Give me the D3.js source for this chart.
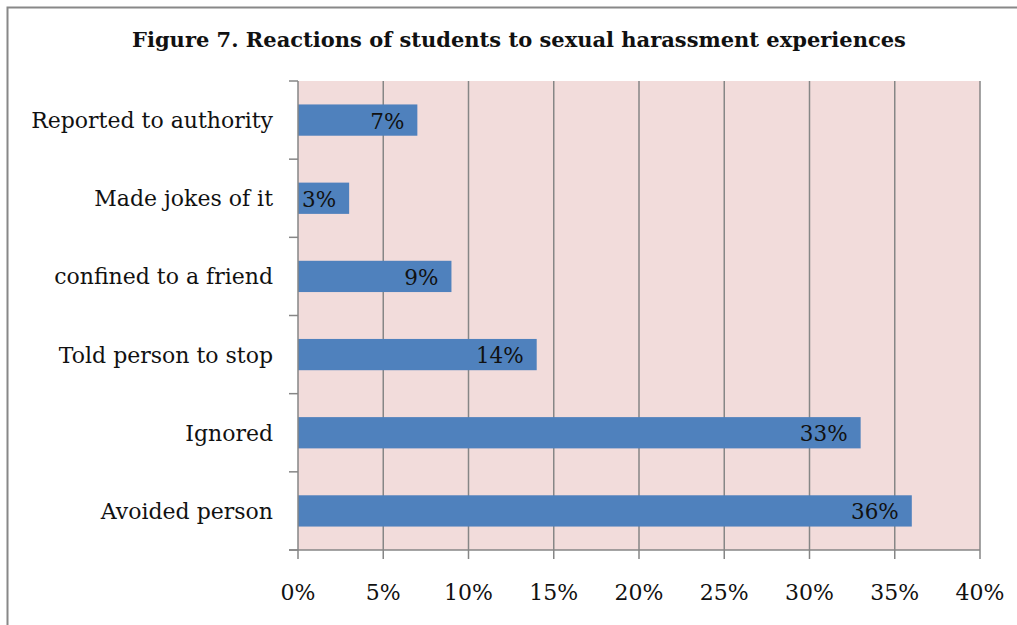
<!DOCTYPE html>
<html><head><meta charset="utf-8">
<script src="https://cdn.jsdelivr.net/npm/d3@7"></script>
<style>body{margin:0;background:#fff}svg{display:block}</style>
</head><body>
<script>
const categories = ["Reported to authority","Made jokes of it","confined to a friend","Told person to stop","Ignored","Avoided person"];
const values = [7,3,9,14,33,36];
const tickValues = [0,5,10,15,20,25,30,35,40];
const title = "Figure 7. Reactions of students to sexual harassment experiences";

const W=1017,H=625;
const svg=d3.select("body").append("svg").attr("width",W).attr("height",H);
const font="'DejaVu Serif', serif";
// outer border
svg.append("rect").attr("x",7.5).attr("y",7.5).attr("width",W+10).attr("height",H+10)
  .attr("fill","#fff").attr("stroke","#888").attr("stroke-width",2);

const L=298,R=980,T=81,B=550;
const x=d3.scaleLinear().domain([0,40]).range([L,R]);
const y=d3.scaleBand().domain(categories).range([T,B]).paddingInner(0.6).paddingOuter(0.3);
const yb=d3.scaleBand().domain(categories).range([T,B]);

svg.append("rect").attr("x",L).attr("y",T).attr("width",R-L).attr("height",B-T).attr("fill","#F2DCDB");
// gridlines
svg.append("g").selectAll("line").data(tickValues.slice(1)).join("line")
  .attr("x1",d=>x(d)).attr("x2",d=>x(d)).attr("y1",T).attr("y2",B)
  .attr("stroke","#868686").attr("stroke-width",1.5);

// bars
svg.append("g").selectAll("rect").data(values).join("rect")
  .attr("x",L).attr("y",(d,i)=>y(categories[i])).attr("width",d=>x(d)-L).attr("height",y.bandwidth())
  .attr("fill","#4F81BD");
svg.append("g").selectAll("text").data(values).join("text")
  .attr("x",d=>x(d)-13).attr("y",(d,i)=>y(categories[i])+y.bandwidth()/2+8.5)
  .attr("text-anchor","end")
  .style("font-family",font).style("font-size","21.5px").attr("fill","#111")
  .text(d=>d+"%");

// y axis
const yAxis=svg.append("g").attr("transform",`translate(${L},0)`);
yAxis.append("line").attr("x1",0).attr("x2",0).attr("y1",T).attr("y2",B).attr("stroke","#868686").attr("stroke-width",1.5);
const bounds=categories.map(c=>yb(c)).concat([B]);
yAxis.selectAll("line.t").data(bounds).join("line").attr("class","t")
  .attr("x1",-9).attr("x2",0).attr("y1",d=>d).attr("y2",d=>d).attr("stroke","#868686").attr("stroke-width",1.5);
yAxis.selectAll("text").data(categories).join("text")
  .attr("x",-25).attr("y",d=>yb(d)+yb.bandwidth()/2+8).attr("text-anchor","end")
  .style("font-family",font).style("font-size","22px").attr("fill","#111").text(d=>d);

// x axis
const xAxis=svg.append("g").attr("transform",`translate(0,${B})`);
xAxis.append("line").attr("x1",L-9).attr("x2",R).attr("y1",0).attr("y2",0).attr("stroke","#868686").attr("stroke-width",1.5);
xAxis.selectAll("line.t").data(tickValues).join("line").attr("class","t")
  .attr("x1",d=>x(d)).attr("x2",d=>x(d)).attr("y1",0).attr("y2",9).attr("stroke","#868686").attr("stroke-width",1.5);
xAxis.selectAll("text").data(tickValues).join("text")
  .attr("x",d=>x(d)).attr("y",50).attr("text-anchor","middle")
  .style("font-family",font).style("font-size","22px").attr("fill","#111").text(d=>d+"%");

svg.append("text").attr("x",519).attr("y",47).attr("text-anchor","middle")
  .style("font-family",font).style("font-size","21px").style("font-weight","bold").attr("fill","#111").text(title);
</script>
</body></html>
